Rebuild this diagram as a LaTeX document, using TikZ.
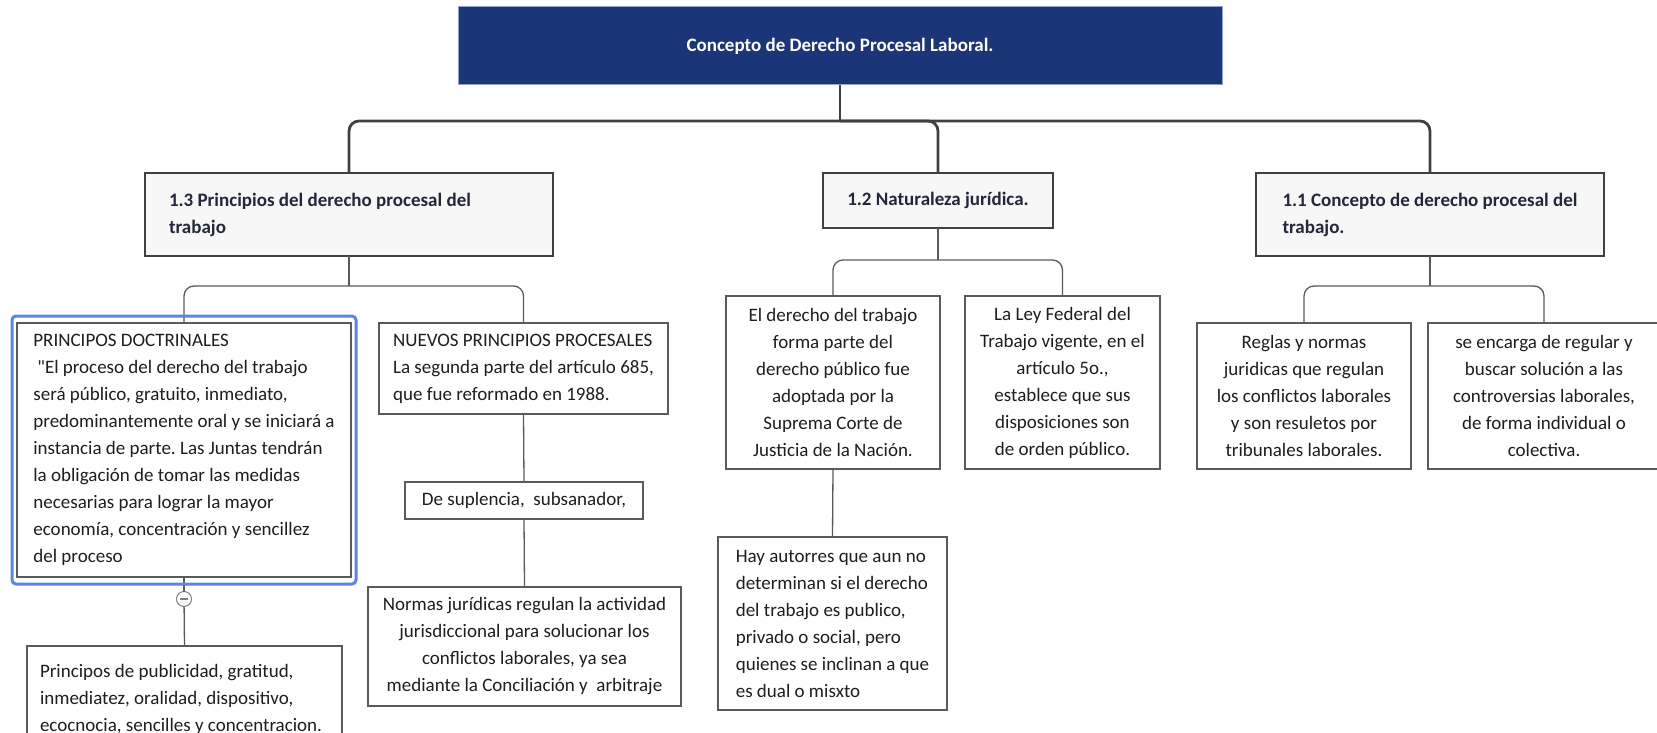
\documentclass[tikz,border=0pt]{standalone}
\usepackage{fontspec}
\setmainfont{Carlito}[Ligatures=TeXOff]
\frenchspacing
\definecolor{titlenavy}{HTML}{1A3578}
\definecolor{titleedge}{HTML}{8EA2CC}
\definecolor{topicedge}{HTML}{404040}
\definecolor{topicfill}{HTML}{F7F7F7}
\definecolor{topicink}{HTML}{22283A}
\definecolor{leafedge}{HTML}{5A5A5A}
\definecolor{inkgray}{HTML}{1E1E1E}
\definecolor{foldgray}{HTML}{808080}
\definecolor{selblue}{HTML}{5D81F0}

\begin{document}
\begin{tikzpicture}[x=1pt, y=-1pt,
    every node/.style={anchor=north west, inner ysep=0pt, outer sep=0pt, text=inkgray,
        font=\fontsize{19}{27}\selectfont},
    topic/.style={draw=topicedge, line width=2.8pt, fill=topicfill, text=topicink,
        font=\bfseries\fontsize{19}{27}\selectfont},
    leaf/.style={draw=leafedge, line width=1.5pt, fill=white},
    mainline/.style={draw=topicedge, line width=2.8pt, rounded corners=10pt},
    subline/.style={draw=leafedge, line width=1.3pt, rounded corners=10pt}]
    \useasboundingbox (0,0) rectangle (1657,733);

    \node[fill=titlenavy, draw=titleedge, line width=1pt, text=white,
        font=\bfseries\fontsize{19}{27}\selectfont,
        minimum width=764pt, minimum height=78pt] (title) at (458,7)
        {Concepto de Derecho Procesal Laboral.};

    \node[topic, minimum height=83pt, align=flush left, text width=360pt, inner xsep=24pt] (n13) at (145,173)
        {1.3 Principios del derecho procesal del\\trabajo};
    \node[topic, minimum width=230pt, minimum height=55pt] (n12) at (823,173)
        {1.2 Naturaleza jurídica.};
    \node[topic, minimum width=348pt, minimum height=83pt, align=left] (n11) at (1256,173)
        {1.1 Concepto de derecho procesal del\\trabajo.};

    \node[leaf, minimum width=334pt, minimum height=254pt, align=left] (doc) at (17,323)
        {PRINCIPOS DOCTRINALES\\\hspace*{4pt}"El proceso del derecho del trabajo\\será público, gratuito, inmediato,\\predominantemente oral y se iniciará a\\instancia de parte. Las Juntas tendrán\\la obligación de tomar las medidas\\necesarias para lograr la mayor\\economía, concentración y sencillez\\del proceso};
    \node[leaf, minimum height=106pt, align=flush left, text width=289pt, inner xsep=13pt] (pub) at (27,646)
        {Principos de publicidad, gratitud,\\inmediatez, oralidad, dispositivo,\\ecocnocia, sencilles y concentracion.};
    \node[leaf, minimum width=289pt, minimum height=91pt, align=left] (nuevos) at (379,323)
        {NUEVOS PRINCIPIOS PROCESALES\\La segunda parte del artículo 685,\\que fue reformado en 1988.};
    \node[leaf, minimum width=238pt, minimum height=37pt] (supl) at (405,482)
        {De suplencia,\ \ subsanador,\ };
    \node[leaf, minimum width=313pt, minimum height=119pt, align=center] (normas) at (368,587)
        {Normas jurídicas regulan la actividad\\jurisdiccional para solucionar los\\conflictos laborales, ya sea\\mediante la Conciliación y\ \ arbitraje};

    \node[leaf, minimum width=214pt, minimum height=173pt, align=center] (derpub) at (726,296)
        {El derecho del trabajo\\forma parte del\\derecho público fue\\adoptada por la\\Suprema Corte de\\Justicia de la Nación.};
    \node[leaf, minimum width=195pt, minimum height=173pt, align=center] (ley) at (965,296)
        {La Ley Federal del\\Trabajo vigente, en el\\artículo 5o.,\\establece que sus\\disposiciones son\\de orden público.};
    \node[leaf, minimum width=229pt, minimum height=173pt, align=left] (hay) at (718,537)
        {Hay autorres que aun no\\determinan si el derecho\\del trabajo es publico,\\privado o social, pero\\quienes se inclinan a que\\es dual o misxto};

    \node[leaf, minimum width=214pt, minimum height=146pt, align=center] (reglas) at (1197,323)
        {Reglas y normas\\juridicas que regulan\\los conflictos laborales\\y son resuletos por\\tribunales laborales.};
    \node[leaf, minimum width=232pt, minimum height=146pt, align=center] (encarga) at (1428,323)
        {se encarga de regular y\\buscar solución a las\\controversias laborales,\\de forma individual o\\colectiva.};

    \node[draw=foldgray, fill=white, circle, line width=1pt, minimum size=15pt, inner sep=0pt,
        anchor=center] (fold) at (184,599) {};
    \draw[foldgray, line width=1.2pt] ([xshift=-4pt]fold.center) -- ([xshift=4pt]fold.center);

    \coordinate (hub) at (title.south |- 0,121);
    \draw[mainline] (title.south) -- (hub);
    \foreach \kid in {n13, n12, n11}
        \draw[mainline] (hub) -| (\kid.north);

    \foreach \up/\lvl/\kida/\kidb in {n13/286/doc/nuevos, n12/260/derpub/ley, n11/286/reglas/encarga} {
        \coordinate (hub-\up) at (\up.south |- 0,\lvl);
        \draw[subline] (\up.south) -- (hub-\up);
        \draw[subline] (hub-\up) -| (\kida.north);
        \draw[subline] (hub-\up) -| (\kidb.north);
    }

    \draw[subline] (doc.south) -- (fold);
    \draw[subline] (fold) -- (pub.north);
    \draw[subline] (nuevos.south) -- (supl.north);
    \draw[subline] (supl.south) -- (normas.north);
    \draw[subline] (derpub.south) -- (hay.north);

    \draw[selblue, line width=3pt, rounded corners=4pt]
        ([xshift=-5pt, yshift=7pt]doc.north west) rectangle ([xshift=5pt, yshift=-7pt]doc.south east);
\end{tikzpicture}
\end{document}
